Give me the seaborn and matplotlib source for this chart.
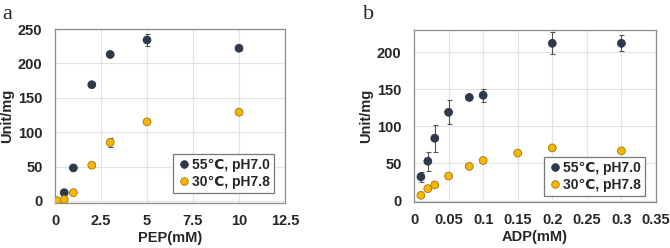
import matplotlib
matplotlib.use("Agg")
import matplotlib.pyplot as plt
import seaborn as sns
import pandas as pd
from matplotlib.lines import Line2D

# Panel a: PEP
pep_55_x = [0.5, 1, 2, 3, 5, 10]
pep_55_y = [12, 48, 169, 213, 234, 222]
pep_55_err = [1, 1, 1, 2, 9, 3]
pep_30_x = [0.1, 0.5, 1, 2, 3, 5, 10]
pep_30_y = [0.5, 2, 12, 52, 85, 115, 129]
pep_30_err = [0.5, 0.5, 1, 1, 7, 2, 3]

# Panel b: ADP
adp_55_x = [0.01, 0.02, 0.03, 0.05, 0.08, 0.1, 0.2, 0.3]
adp_55_y = [32, 53, 84, 119, 139, 142, 212, 212]
adp_55_err = [7, 13, 18, 16, 1, 9, 15, 11]
adp_30_x = [0.01, 0.02, 0.03, 0.05, 0.08, 0.1, 0.15, 0.2, 0.3]
adp_30_y = [7, 16, 21, 33, 46, 54, 64, 71, 67]
adp_30_err = [0.5, 0.5, 0.5, 1, 1, 1, 1, 1, 1]

labels = ["55\u2103, pH7.0", "30\u2103, pH7.8"]
colors = {labels[0]: "#2d3a4e", labels[1]: "#f7b500"}
edges = {labels[0]: "#2a3442", labels[1]: "#9c7a10"}

sns.set_style("white")
plt.rcParams["font.family"] = ["Liberation Sans", "DejaVu Sans"]
plt.rcParams["font.weight"] = "bold"

fig = plt.figure(figsize=(6.7, 2.48), dpi=100)
ax1 = fig.add_axes([55/670, 45/248, 230/670, 174/248])
ax2 = fig.add_axes([414/670, 46/248, 242/670, 172/248])


def panel(ax, x55, y55, e55, x30, y30, e30, xlim, ylim, xticks, xticklabels, yticks,
          xlabel, letter, leg_anchor):
    df = pd.concat([
        pd.DataFrame({"x": x55, "y": y55, "err": e55, "cond": labels[0]}),
        pd.DataFrame({"x": x30, "y": y30, "err": e30, "cond": labels[1]}),
    ])
    for cond, sub in df.groupby("cond"):
        ax.errorbar(sub["x"], sub["y"], yerr=sub["err"], fmt="none",
                    ecolor="#555555", elinewidth=0.8, capsize=1.8, capthick=0.8, zorder=2)
    sns.scatterplot(data=df, x="x", y="y", hue="cond", palette=colors,
                    hue_order=labels, s=32, linewidth=0.6, ax=ax, legend=False, zorder=3,
                    edgecolor=[edges[c] for c in df["cond"]])
    ax.set_xlim(*xlim)
    ax.set_ylim(*ylim)
    ax.set_xticks(xticks)
    ax.set_xticklabels(xticklabels)
    ax.set_yticks(yticks)
    ax.set_yticklabels([str(v) for v in yticks])
    ax.grid(True, color="#e2e2e2", linewidth=0.8)
    ax.set_axisbelow(True)
    for sp in ax.spines.values():
        sp.set_color("#8a8a8a")
        sp.set_linewidth(0.9)
    ax.tick_params(length=0, labelsize=10.5)
    ax.tick_params(axis="y", pad=9)
    ax.tick_params(axis="x", pad=8)
    for t in ax.get_xticklabels() + ax.get_yticklabels():
        t.set_fontweight("bold")
    ax.set_xlabel(xlabel, fontsize=10.5, fontweight="bold", labelpad=2)
    ax.set_ylabel("Unit/mg", fontsize=10.5, fontweight="bold", labelpad=3)
    handles = [Line2D([], [], marker="o", linestyle="none", markersize=5.5,
                      markerfacecolor=colors[l], markeredgecolor=edges[l], markeredgewidth=0.6)
               for l in labels]
    leg = ax.legend(handles, labels, loc="lower right", bbox_to_anchor=leg_anchor,
                    frameon=True, fancybox=False, edgecolor="#777777", framealpha=1,
                    prop={"weight": "bold", "size": 10}, handletextpad=0.05,
                    handlelength=1.0, borderpad=0.3, labelspacing=0.2,
                    borderaxespad=0)
    leg.get_frame().set_linewidth(0.9)
    ax.text(2/670, 1 - 19/248, letter, transform=fig.transFigure if False else ax.figure.transFigure,
            fontsize=16, family=["Liberation Serif", "DejaVu Serif"], fontweight="normal",
            va="baseline", ha="left") if letter == "a" else \
        ax.text(363/670, 1 - 19/248, letter, transform=ax.figure.transFigure,
                fontsize=16, family=["Liberation Serif", "DejaVu Serif"], fontweight="normal",
                va="baseline", ha="left")


panel(ax1, pep_55_x, pep_55_y, pep_55_err, pep_30_x, pep_30_y, pep_30_err,
      (0, 12.5), (-3, 250), [0, 2.5, 5, 7.5, 10, 12.5],
      ["0", "2.5", "5", "7.5", "10", "12.5"], [0, 50, 100, 150, 200, 250],
      "PEP(mM)", "a", (0.952, 0.057))
panel(ax2, adp_55_x, adp_55_y, adp_55_err, adp_30_x, adp_30_y, adp_30_err,
      (0, 0.35), (-2, 230), [0, 0.05, 0.1, 0.15, 0.2, 0.25, 0.3, 0.35],
      ["0", "0.05", "0.1", "0.15", "0.2", "0.25", "0.3", "0.35"], [0, 50, 100, 150, 200],
      "ADP(mM)", "b", (0.955, 0.035))

fig.savefig("out.png", dpi=100)
